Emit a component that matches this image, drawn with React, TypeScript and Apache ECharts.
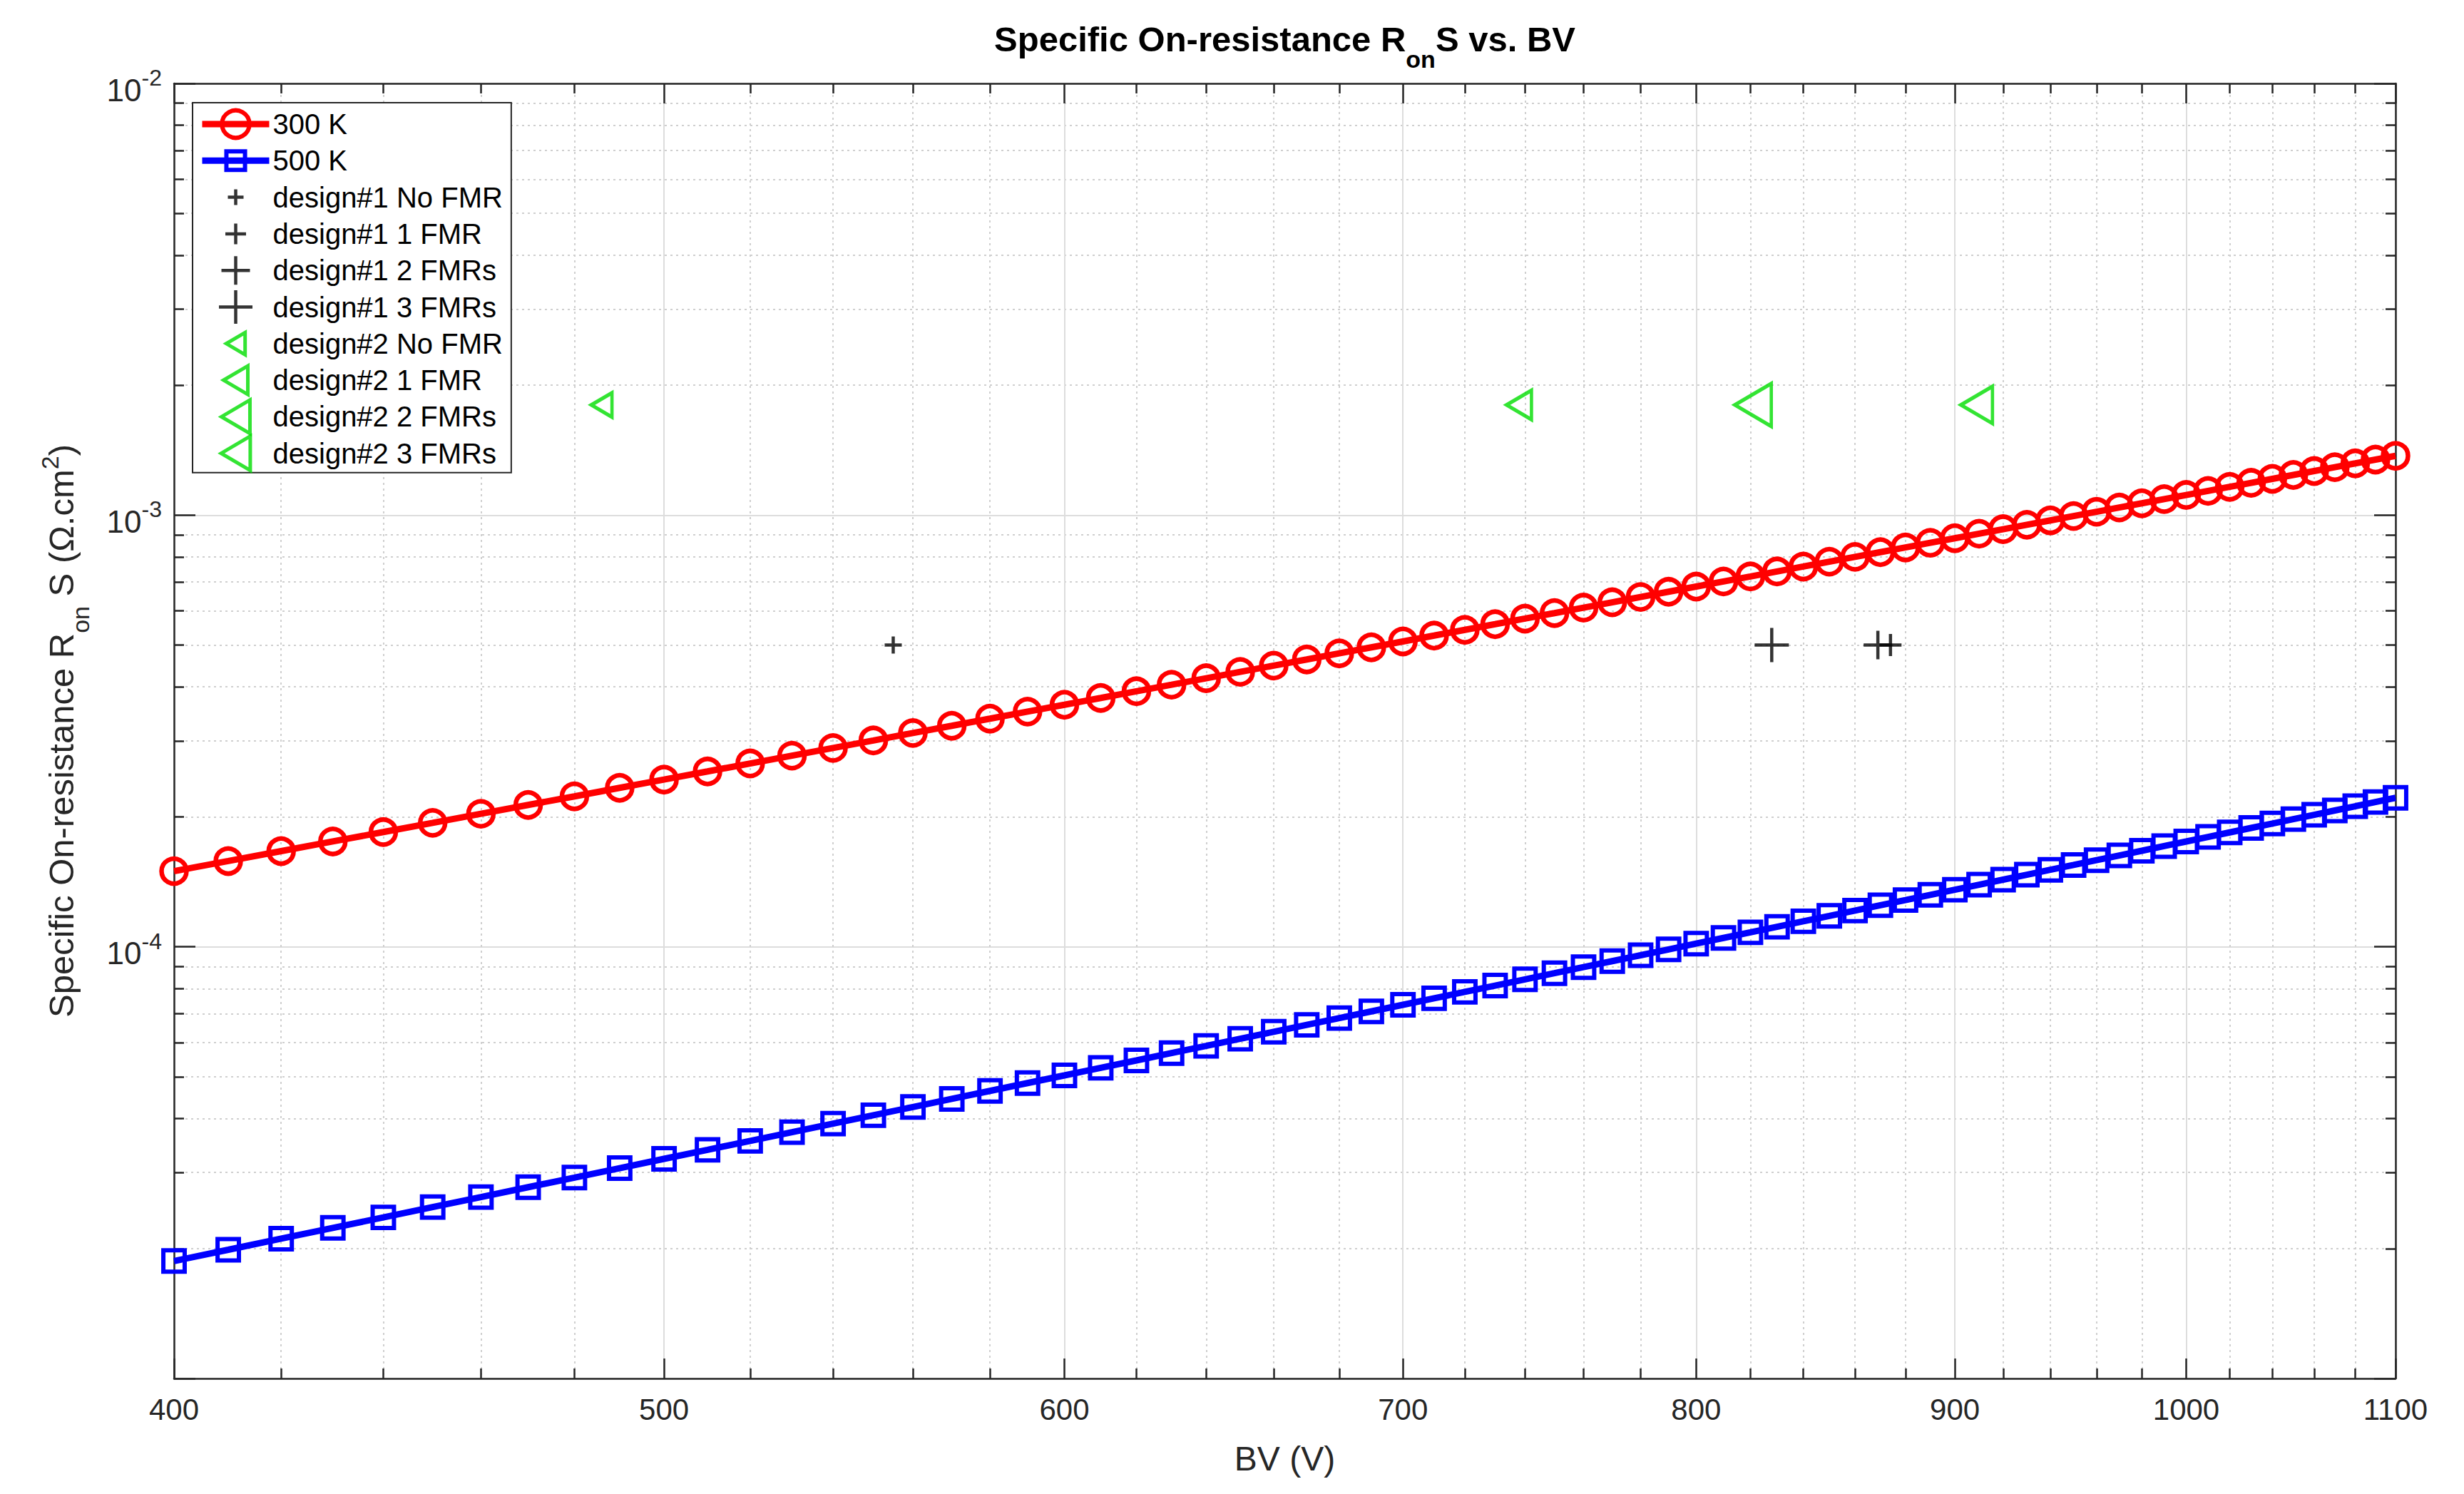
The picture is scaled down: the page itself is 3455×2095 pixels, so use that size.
import React, { useEffect, useRef } from "react";
import * as echarts from "echarts";

// ---------------- data ----------------
const BV_V = [
  400, 410, 420, 430, 440, 450, 460, 470, 480, 490,
  500, 510, 520, 530, 540, 550, 560, 570, 580, 590,
  600, 610, 620, 630, 640, 650, 660, 670, 680, 690,
  700, 710, 720, 730, 740, 750, 760, 770, 780, 790,
  800, 810, 820, 830, 840, 850, 860, 870, 880, 890,
  900, 910, 920, 930, 940, 950, 960, 970, 980, 990,
  1000, 1010, 1020, 1030, 1040, 1050, 1060, 1070, 1080, 1090, 1100,
];

const RON_300K = [
  1.497e-4, 1.580e-4, 1.666e-4, 1.754e-4, 1.844e-4, 1.937e-4, 2.033e-4, 2.131e-4, 2.231e-4, 2.335e-4,
  2.440e-4, 2.548e-4, 2.659e-4, 2.772e-4, 2.888e-4, 3.006e-4, 3.128e-4, 3.251e-4, 3.377e-4, 3.506e-4,
  3.637e-4, 3.771e-4, 3.908e-4, 4.047e-4, 4.189e-4, 4.334e-4, 4.481e-4, 4.631e-4, 4.784e-4, 4.940e-4,
  5.098e-4, 5.259e-4, 5.423e-4, 5.589e-4, 5.758e-4, 5.930e-4, 6.105e-4, 6.282e-4, 6.462e-4, 6.645e-4,
  6.831e-4, 7.019e-4, 7.210e-4, 7.405e-4, 7.601e-4, 7.801e-4, 8.003e-4, 8.208e-4, 8.416e-4, 8.627e-4,
  8.841e-4, 9.057e-4, 9.276e-4, 9.498e-4, 9.723e-4, 9.951e-4, 1.0182e-3, 1.0416e-3, 1.0652e-3, 1.0892e-3,
  1.1135e-3, 1.1380e-3, 1.1628e-3, 1.1879e-3, 1.2133e-3, 1.2390e-3, 1.2650e-3, 1.2913e-3, 1.3178e-3, 1.3448e-3, 1.3719e-3,
];

const RON_500K = [
  1.871e-5, 1.987e-5, 2.108e-5, 2.233e-5, 2.361e-5, 2.495e-5, 2.632e-5, 2.774e-5, 2.920e-5, 3.071e-5,
  3.227e-5, 3.386e-5, 3.551e-5, 3.720e-5, 3.894e-5, 4.072e-5, 4.255e-5, 4.443e-5, 4.636e-5, 4.834e-5,
  5.036e-5, 5.244e-5, 5.455e-5, 5.673e-5, 5.895e-5, 6.123e-5, 6.356e-5, 6.594e-5, 6.837e-5, 7.085e-5,
  7.339e-5, 7.598e-5, 7.862e-5, 8.131e-5, 8.406e-5, 8.686e-5, 8.972e-5, 9.264e-5, 9.560e-5, 9.863e-5,
  1.0171e-4, 1.0484e-4, 1.0802e-4, 1.1127e-4, 1.1457e-4, 1.1792e-4, 1.2133e-4, 1.2481e-4, 1.2833e-4, 1.3193e-4,
  1.3558e-4, 1.3929e-4, 1.4306e-4, 1.4689e-4, 1.5078e-4, 1.5472e-4, 1.5873e-4, 1.6280e-4, 1.6692e-4, 1.7113e-4,
  1.7537e-4, 1.7970e-4, 1.8408e-4, 1.8852e-4, 1.9302e-4, 1.9759e-4, 2.0222e-4, 2.0690e-4, 2.1166e-4, 2.1648e-4, 2.2136e-4,
];

const DESIGN1_NAMES = ["design#1 No FMR", "design#1 1 FMR", "design#1 2 FMRs", "design#1 3 FMRs"];
const DESIGN1_BV = [555, 874, 869, 828];
const DESIGN1_RON = [5.0e-4, 5.0e-4, 5.0e-4, 5.0e-4];

const DESIGN2_NAMES = ["design#2 No FMR", "design#2 1 FMR", "design#2 2 FMRs", "design#2 3 FMRs"];
const DESIGN2_BV = [486, 738, 909, 821];
const DESIGN2_RON = [1.8e-3, 1.8e-3, 1.8e-3, 1.8e-3];

const X_RANGE = [400, 1100];
const X_MAJOR_TICKS = [400, 500, 600, 700, 800, 900, 1000, 1100];
const X_MINOR_TICKS = [
  420, 440, 460, 480, 520, 540, 560, 580, 620, 640, 660, 680, 720, 740, 760, 780,
  820, 840, 860, 880, 920, 940, 960, 980, 1020, 1040, 1060, 1080,
];
const Y_RANGE = [1e-5, 1e-2];
const Y_MAJOR_TICKS = [1e-5, 1e-4, 1e-3, 1e-2];
const Y_TICK_LABELS = [1e-4, 1e-3, 1e-2];
const Y_MINOR_TICKS = [
  2e-5, 3e-5, 4e-5, 5e-5, 6e-5, 7e-5, 8e-5, 9e-5,
  2e-4, 3e-4, 4e-4, 5e-4, 6e-4, 7e-4, 8e-4, 9e-4,
  2e-3, 3e-3, 4e-3, 5e-3, 6e-3, 7e-3, 8e-3, 9e-3,
];

const TITLE = "Specific On-resistance R{sub|on}S vs. BV";
const X_NAME = "BV (V)";
const Y_NAME = "Specific On-resistance R{sub|on} S (\u03A9.cm{sup|2})";

// ---------------- styles ----------------
const W = 3455;
const H = 2095;
const GRID = { left: 244, right: 96, top: 117, bottom: 162 };
const FONT = '"Liberation Sans", Arial, Helvetica, sans-serif';
const AXIS_COLOR = "#262626";
const RED = "#ff0000";
const BLUE = "#0000ff";
const GREEN = "#00dd00";
const BLACK = "#000000";
const CLEAR = "rgba(0,0,0,0)";

const D1_PLOT_SIZES = [24, 31, 40, 48];
const D1_LEGEND_SIZES = [22, 29, 40, 47];
const D2_PLOT_HEIGHTS = [34, 41, 52, 60];
const D2_LEGEND_HEIGHTS = [31, 40, 47, 56];
const LEGEND_ITEM_H = 48;

const PLUS_SYMBOL = "path://M50 0L50 100M0 50L100 50";
const TRI_SYMBOL = "path://M85 0L85 100L0 50Z";
const SQUARE_SYMBOL = "path://M0 0M100 100M16 16L84 16L84 84L16 84Z";

const L = (v: number) => Math.log10(v);

function plusIcon(px: number) {
  const f = Math.min(px / LEGEND_ITEM_H, 1);
  const a = 50 - 50 * f;
  const b = 50 + 50 * f;
  return `path://M0 0M100 100M50 ${a}L50 ${b}M${a} 50L${b} 50`;
}
function triIcon(px: number) {
  const f = Math.min(px / LEGEND_ITEM_H, 1);
  const h = 100 * f;
  const w = 0.85 * h;
  const rx = 50 + w / 2;
  const lx = 50 - w / 2;
  const ty = 50 - h / 2;
  const by = 50 + h / 2;
  return `path://M0 0M100 100M${rx} ${ty}L${rx} ${by}L${lx} 50Z`;
}

function buildOption() {
  const axisLineStyle = { color: AXIS_COLOR, width: 2.5 };
  const majorSplit = { show: true, lineStyle: { color: "#dddddd", width: 2, type: "solid" } };
  const minorSplit = { show: true, lineStyle: { color: "#cfcfcf", width: 2, type: [3, 5] } };
  const xMin = L(X_RANGE[0]);
  const xMax = L(X_RANGE[1]);
  const yMin = L(Y_RANGE[0]);
  const yMax = L(Y_RANGE[1]);

  const xBase = (position: string) => ({
    type: "value",
    position,
    min: xMin,
    max: xMax,
    axisPointer: { show: false },
  });
  const yBase = (position: string) => ({
    type: "value",
    position,
    min: yMin,
    max: yMax,
    axisPointer: { show: false },
  });

  const xAxis = [
    {
      ...xBase("bottom"),
      axisLine: { show: true, onZero: false, lineStyle: axisLineStyle },
      axisTick: { show: true, inside: true, length: 28, lineStyle: axisLineStyle, customValues: X_MAJOR_TICKS.map(L) },
      axisLabel: {
        show: true,
        customValues: X_MAJOR_TICKS.map(L),
        formatter: (v: number) => String(Math.round(Math.pow(10, v))),
        fontSize: 42,
        color: AXIS_COLOR,
        fontFamily: FONT,
        margin: 22,
      },
      splitLine: majorSplit,
      name: X_NAME,
      nameLocation: "middle",
      nameGap: 88,
      nameTextStyle: { fontSize: 48, color: AXIS_COLOR, fontFamily: FONT },
    },
    {
      ...xBase("bottom"),
      axisLine: { show: false, onZero: false },
      axisTick: { show: true, inside: true, length: 14, lineStyle: axisLineStyle, customValues: X_MINOR_TICKS.map(L) },
      axisLabel: { show: false },
      splitLine: minorSplit,
    },
    {
      ...xBase("top"),
      axisLine: { show: true, onZero: false, lineStyle: axisLineStyle },
      axisTick: { show: true, inside: true, length: 28, lineStyle: axisLineStyle, customValues: X_MAJOR_TICKS.map(L) },
      axisLabel: { show: false },
      splitLine: { show: false },
    },
    {
      ...xBase("top"),
      axisLine: { show: false, onZero: false },
      axisTick: { show: true, inside: true, length: 14, lineStyle: axisLineStyle, customValues: X_MINOR_TICKS.map(L) },
      axisLabel: { show: false },
      splitLine: { show: false },
    },
  ];

  const yAxis = [
    {
      ...yBase("left"),
      axisLine: { show: true, onZero: false, lineStyle: axisLineStyle },
      axisTick: { show: true, inside: true, length: 30, lineStyle: axisLineStyle, customValues: Y_MAJOR_TICKS.map(L) },
      axisLabel: {
        show: true,
        customValues: Y_TICK_LABELS.map(L),
        formatter: (v: number) => `{b|10}{s|${Math.round(v)}}`,
        margin: 17,
        color: AXIS_COLOR,
        fontFamily: FONT,
        fontSize: 44,
        rich: {
          b: { fontSize: 44, color: AXIS_COLOR, fontFamily: FONT, padding: [18, 0, 0, 0] },
          s: { fontSize: 32, color: AXIS_COLOR, fontFamily: FONT, padding: [0, 0, 16, 0] },
        },
      },
      splitLine: majorSplit,
      name: Y_NAME,
      nameLocation: "middle",
      nameGap: 114,
      nameTextStyle: {
        fontSize: 49,
        color: AXIS_COLOR,
        fontFamily: FONT,
        rich: {
          sub: { fontSize: 34, color: AXIS_COLOR, fontFamily: FONT, padding: [54, 0, 0, 0] },
          sup: { fontSize: 34, color: AXIS_COLOR, fontFamily: FONT, padding: [0, 0, 32, 0] },
        },
      },
    },
    {
      ...yBase("left"),
      axisLine: { show: false, onZero: false },
      axisTick: { show: true, inside: true, length: 14, lineStyle: axisLineStyle, customValues: Y_MINOR_TICKS.map(L) },
      axisLabel: { show: false },
      splitLine: minorSplit,
    },
    {
      ...yBase("right"),
      axisLine: { show: true, onZero: false, lineStyle: axisLineStyle },
      axisTick: { show: true, inside: true, length: 30, lineStyle: axisLineStyle, customValues: Y_MAJOR_TICKS.map(L) },
      axisLabel: { show: false },
      splitLine: { show: false },
    },
    {
      ...yBase("right"),
      axisLine: { show: false, onZero: false },
      axisTick: { show: true, inside: true, length: 14, lineStyle: axisLineStyle, customValues: Y_MINOR_TICKS.map(L) },
      axisLabel: { show: false },
      splitLine: { show: false },
    },
  ];

  const series: any[] = [
    {
      type: "line",
      name: "300 K",
      data: BV_V.map((x, i) => [L(x), L(RON_300K[i])]),
      symbol: "circle",
      symbolSize: 35,
      showSymbol: true,
      lineStyle: { color: RED, width: 9 },
      itemStyle: { color: CLEAR, borderColor: RED, borderWidth: 6.5 },
      silent: true,
      z: 3,
    },
    {
      type: "line",
      name: "500 K",
      data: BV_V.map((x, i) => [L(x), L(RON_500K[i])]),
      symbol: SQUARE_SYMBOL,
      symbolSize: 44,
      showSymbol: true,
      lineStyle: { color: BLUE, width: 9 },
      itemStyle: { color: CLEAR, borderColor: BLUE, borderWidth: 6 },
      silent: true,
      z: 3,
    },
    ...DESIGN1_NAMES.map((name, i) => ({
      type: "scatter",
      name,
      data: [[L(DESIGN1_BV[i]), L(DESIGN1_RON[i])]],
      symbol: PLUS_SYMBOL,
      symbolSize: D1_PLOT_SIZES[i],
      itemStyle: { color: CLEAR, borderColor: BLACK, borderWidth: 4.5 },
      silent: true,
      z: 4,
    })),
    ...DESIGN2_NAMES.map((name, i) => ({
      type: "scatter",
      name,
      data: [[L(DESIGN2_BV[i]), L(DESIGN2_RON[i])]],
      symbol: TRI_SYMBOL,
      symbolSize: [0.85 * D2_PLOT_HEIGHTS[i], D2_PLOT_HEIGHTS[i]],
      itemStyle: { color: CLEAR, borderColor: GREEN, borderWidth: 5 },
      silent: true,
      z: 4,
    })),
  ];

  const legendData: any[] = [
    { name: "300 K", itemStyle: { color: CLEAR, borderColor: RED, borderWidth: 6 }, lineStyle: { color: RED, width: 9 } },
    { name: "500 K", itemStyle: { color: CLEAR, borderColor: BLUE, borderWidth: 6 }, lineStyle: { color: BLUE, width: 9 } },
    ...DESIGN1_NAMES.map((name, i) => ({
      name,
      icon: plusIcon(D1_LEGEND_SIZES[i]),
      itemStyle: { color: CLEAR, borderColor: BLACK, borderWidth: 4.5 },
    })),
    ...DESIGN2_NAMES.map((name, i) => ({
      name,
      icon: triIcon(D2_LEGEND_HEIGHTS[i]),
      itemStyle: { color: CLEAR, borderColor: GREEN, borderWidth: 5 },
    })),
  ];

  return {
    animation: false,
    backgroundColor: "#ffffff",
    textStyle: { fontFamily: FONT },
    title: {
      text: TITLE,
      left: GRID.left + (W - GRID.left - GRID.right) / 2,
      textAlign: "center",
      top: 10,
      padding: 0,
      textStyle: {
        fontSize: 49,
        fontWeight: "bold",
        color: BLACK,
        fontFamily: FONT,
        rich: {
          sub: { fontSize: 34, fontWeight: "bold", color: BLACK, fontFamily: FONT, padding: [56, 0, 0, 0] },
        },
      },
    },
    grid: {
      left: GRID.left,
      right: GRID.right,
      top: GRID.top,
      bottom: GRID.bottom,
      containLabel: false,
      outerBoundsMode: "none",
    },
    legend: {
      show: true,
      orient: "vertical",
      left: 270,
      top: 144,
      padding: [3.5, 12, 0.5, 9],
      itemWidth: 94,
      itemHeight: LEGEND_ITEM_H,
      itemGap: -1.7,
      backgroundColor: "#ffffff",
      borderColor: AXIS_COLOR,
      borderWidth: 2,
      borderRadius: 0,
      selectedMode: false,
      symbolKeepAspect: true,
      textStyle: { fontSize: 40, lineHeight: 53, color: BLACK, fontFamily: FONT },
      data: legendData,
    },
    tooltip: { show: false },
    xAxis,
    yAxis,
    series,
  };
}

export default function App() {
  const ref = useRef<HTMLDivElement>(null);
  useEffect(() => {
    if (!ref.current) return;
    document.body.style.margin = "0";
    document.body.style.padding = "0";
    const chart = echarts.init(ref.current, null, { renderer: "svg" });
    chart.setOption(buildOption() as any);
    return () => chart.dispose();
  }, []);
  return (
    <div
      ref={ref}
      style={{ position: "absolute", left: 0, top: 0, width: W, height: H, background: "#ffffff" }}
    />
  );
}
